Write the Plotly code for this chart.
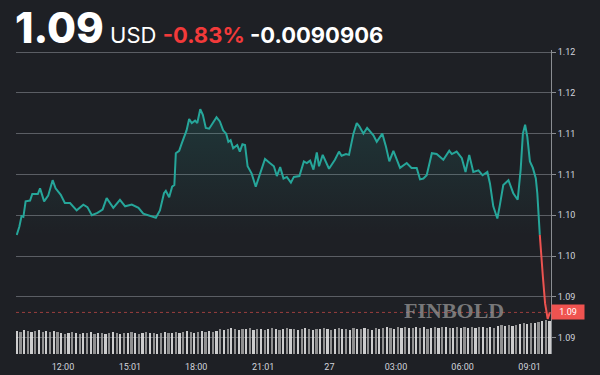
import plotly.graph_objects as go
import pandas as pd

# ---------------- data ----------------
times = [
    "26 09:55", "26 10:02", "26 10:08", "26 10:13", "26 10:19", "26 10:31", "26 10:37", "26 10:52", "26 10:58", "26 11:09",
    "26 11:20", "26 11:32", "26 11:40", "26 11:54", "26 12:05", "26 12:19", "26 12:37", "26 12:55", "26 13:06", "26 13:18",
    "26 13:33", "26 13:47", "26 13:58", "26 14:16", "26 14:34", "26 14:48", "26 15:06", "26 15:24", "26 15:37", "26 15:55",
    "26 16:11", "26 16:22", "26 16:33", "26 16:38", "26 16:47", "26 16:55", "26 17:01", "26 17:05", "26 17:14", "26 17:21",
    "26 17:28", "26 17:34", "26 17:41", "26 17:48", "26 17:57", "26 18:03", "26 18:11", "26 18:18", "26 18:26", "26 18:35",
    "26 18:45", "26 18:55", "26 19:04", "26 19:13", "26 19:21", "26 19:27", "26 19:33", "26 19:40", "26 19:51", "26 19:58",
    "26 20:05", "26 20:12", "26 20:19", "26 20:30", "26 20:41", "26 20:52", "26 21:06", "26 21:19", "26 21:30", "26 21:38",
    "26 21:47", "26 21:56", "26 22:05", "26 22:16", "26 22:24", "26 22:39", "26 22:51", "26 22:59", "26 23:08", "26 23:17",
    "26 23:26", "26 23:32", "26 23:42", "26 23:59", "27 00:15", "27 00:26", "27 00:33", "27 00:45", "27 00:53", "27 01:05",
    "27 01:14", "27 01:21", "27 01:32", "27 01:42", "27 01:52", "27 01:59", "27 02:08", "27 02:23", "27 02:33", "27 02:42",
    "27 02:53", "27 03:11", "27 03:29", "27 03:42", "27 03:56", "27 04:05", "27 04:14", "27 04:23", "27 04:37", "27 04:50",
    "27 05:08", "27 05:24", "27 05:31", "27 05:44", "27 05:58", "27 06:08", "27 06:18", "27 06:29", "27 06:43", "27 06:54",
    "27 07:07", "27 07:14", "27 07:23", "27 07:34", "27 07:41", "27 07:50", "27 08:04", "27 08:17", "27 08:29", "27 08:37",
    "27 08:43", "27 08:49", "27 08:55", "27 09:02", "27 09:10", "27 09:18", "27 09:22", "27 09:29", "27 09:37", "27 09:43",
    "27 09:50", "27 09:56",
]
prices = [
    1.0976, 1.0986, 1.0999, 1.0998, 1.1017, 1.1018, 1.1026, 1.1026, 1.1033, 1.1017,
    1.1024, 1.1043, 1.1033, 1.1025, 1.1015, 1.1015, 1.1006, 1.1013, 1.1010, 1.1000,
    1.1003, 1.1007, 1.1021, 1.1009, 1.1019, 1.1011, 1.1013, 1.1009, 1.1002, 1.0999,
    1.0997, 1.1006, 1.1027, 1.1030, 1.1022, 1.1035, 1.1037, 1.1076, 1.1079, 1.1088,
    1.1098, 1.1104, 1.1118, 1.1113, 1.1116, 1.1113, 1.1130, 1.1123, 1.1107, 1.1106,
    1.1113, 1.1120, 1.1115, 1.1104, 1.1100, 1.1090, 1.1092, 1.1082, 1.1086, 1.1078,
    1.1087, 1.1086, 1.1060, 1.1051, 1.1035, 1.1049, 1.1069, 1.1064, 1.1060, 1.1048,
    1.1059, 1.1045, 1.1047, 1.1040, 1.1047, 1.1048, 1.1066, 1.1064, 1.1067, 1.1056,
    1.1077, 1.1060, 1.1074, 1.1057, 1.1068, 1.1078, 1.1073, 1.1075, 1.1074, 1.1100,
    1.1113, 1.1109, 1.1100, 1.1107, 1.1101, 1.1098, 1.1090, 1.1100, 1.1084, 1.1066,
    1.1079, 1.1058, 1.1064, 1.1058, 1.1058, 1.1044, 1.1045, 1.1049, 1.1076, 1.1075,
    1.1068, 1.1079, 1.1075, 1.1078, 1.1070, 1.1053, 1.1074, 1.1053, 1.1055, 1.1049,
    1.1053, 1.1039, 1.1011, 1.0996, 1.1013, 1.1037, 1.1043, 1.1027, 1.1019, 1.1056,
    1.1100, 1.1111, 1.1096, 1.1066, 1.1058, 1.1045, 1.1027, 1.0974, 1.0925, 1.0892,
    1.0873, 1.0881,
]
base_price = 1.0976

volumes = [
    23, 22, 24, 23, 22, 23, 24, 22, 23, 22, 23, 22,
    21, 20, 21, 22, 21, 20, 21, 21, 22, 20, 21, 21, 20, 21, 22, 21, 20, 21, 21, 22,
    21, 20, 21, 22, 21, 21, 20, 21, 22, 21, 21, 22, 21, 22, 23, 22, 21, 22, 23, 22, 23, 22, 23,
    25, 24, 25, 26, 25, 24, 25, 25, 26, 24, 25, 25, 24, 25, 26, 25, 24, 25, 26, 25, 25, 24,
    25, 26, 25, 24, 25, 25, 26, 25, 24, 25, 26, 25, 25, 24, 26, 25, 25, 26, 25, 24, 26, 25,
    26, 27, 26, 25, 27, 26, 27, 26, 26, 27, 26, 27, 25, 26, 27, 26, 27, 27, 26, 26,
    27, 26, 27, 26, 27, 26, 27, 27, 26, 27, 26,
    28, 29, 28, 29, 28, 29,
    30, 31, 30, 31, 31,
    32, 33, 34, 33,
]
volume_start = "2023-07-26 09:55"

y_ticks = [1.12, 1.115, 1.11, 1.105, 1.10, 1.095, 1.09, 1.085]
y_ticklabels = ["1.12", "1.12", "1.11", "1.11", "1.10", "1.10", "1.09", "1.09"]
x_tickvals = ["2023-07-26 12:00", "2023-07-26 15:01", "2023-07-26 18:00", "2023-07-26 21:01",
              "2023-07-27 00:00", "2023-07-27 03:00", "2023-07-27 06:00", "2023-07-27 09:01"]
x_ticklabels = ["12:00", "15:01", "18:00", "21:01", "27", "03:00", "06:00", "09:01"]

header_price = "1.09"
header_currency = "USD"
header_pct = "-0.83%"
header_abs = "-0.0090906"
last_label = "1.09"
watermark = "FINBOLD"

# ---------------- build ----------------
t = pd.to_datetime(["2023-07-" + s for s in times])
vt = pd.date_range(volume_start, periods=len(volumes), freq="10min")

k = next(i for i in range(1, len(prices)) if prices[i] < base_price and prices[i - 1] >= base_price)
p0, p1 = prices[k - 1], prices[k]
frac = (p0 - base_price) / (p0 - p1)
t_cross = t[k - 1] + (t[k] - t[k - 1]) * frac

green_x = list(t[:k]) + [t_cross]
green_y = prices[:k] + [base_price]
red_x = [t_cross] + list(t[k:])
red_y = [base_price] + prices[k:]

BG = "#1e2025"
GREEN = "#26a69a"
RED = "#ef5350"
GRID = "#5b5e64"
TXT = "#d1d4dc"

fig = go.Figure()

fig.add_trace(go.Bar(
    x=vt, y=volumes, yaxis="y2",
    marker=dict(color=["#ececec" if i % 2 == 0 else "#a4a4a4" for i in range(len(volumes))], line_width=0),
    width=[10 * 60 * 1000 * 0.6] * len(volumes), opacity=0.85,
    hoverinfo="skip", showlegend=False,
))

fig.add_trace(go.Scatter(x=[green_x[0], green_x[-1]], y=[base_price, base_price], mode="lines",
                         line=dict(width=0, color=GREEN), hoverinfo="skip", showlegend=False))
fig.add_trace(go.Scatter(
    x=green_x, y=green_y, mode="lines", line=dict(color=GREEN, width=2),
    fill="tonexty",
    fillgradient=dict(type="vertical", start=base_price, stop=max(prices),
                      colorscale=[[0, "rgba(38,166,154,0.0)"], [1, "rgba(38,166,154,0.17)"]]),
    showlegend=False))
fig.add_trace(go.Scatter(x=[red_x[0], red_x[-1]], y=[base_price, base_price], mode="lines",
                         line=dict(width=0, color=RED), hoverinfo="skip", showlegend=False))
fig.add_trace(go.Scatter(
    x=red_x, y=red_y, mode="lines", line=dict(color=RED, width=2),
    fill="tonexty",
    fillgradient=dict(type="vertical", start=min(prices), stop=base_price,
                      colorscale=[[0, "rgba(239,83,80,0.18)"], [1, "rgba(239,83,80,0.0)"]]),
    showlegend=False))

# plot area in pixels: x 16..551, y 50..354
L, R, T, B = 16, 551, 50, 354
W, H = 600, 375
def px_x(px):
    return (px - L) / (R - L)
def px_y(py):
    return (B - py) / (B - T)

fig.add_shape(type="line", xref="paper", x0=0, x1=1, yref="y", y0=prices[-1], y1=prices[-1],
              line=dict(color=RED, width=1, dash="dot"), opacity=0.6)

fig.add_annotation(
    xref="paper", yref="paper", x=px_x(13), y=px_y(0), xanchor="left", yanchor="top",
    showarrow=False, align="left",
    text=(f"<span style='font-size:42px;font-weight:800;color:#ffffff'>{header_price}</span>"
          f"<span style='font-size:22px;color:#ffffff'> {header_currency} </span>"
          f"<span style='font-size:22px;font-weight:700;color:#f23a3a'>{header_pct}</span>"
          f"<span style='font-size:22px;font-weight:700;color:#ffffff'> {header_abs}</span>"),
    font=dict(family="Inter, Roboto, sans-serif", color="#ffffff"),
)

fig.add_annotation(
    xref="paper", yref="paper", x=px_x(454), y=px_y(310), xanchor="center", yanchor="middle",
    showarrow=False, text=f"<b>{watermark}</b>",
    font=dict(family="Liberation Serif, DejaVu Serif, serif", size=22, color="rgba(150,150,150,0.75)"),
)

fig.add_annotation(
    xref="paper", yref="y", x=1, y=prices[-1], xanchor="left", yanchor="middle",
    showarrow=False, text=last_label, bgcolor=RED, borderpad=2, width=28,
    font=dict(family="Roboto, sans-serif", size=9, color="#ffffff"),
)

fig.update_layout(
    width=W, height=H,
    margin=dict(l=L, r=W - R, t=T, b=H - B, autoexpand=False),
    paper_bgcolor=BG, plot_bgcolor=BG,
    bargap=0,
    xaxis=dict(
        type="date",
        range=["2023-07-26 09:53", "2023-07-27 09:59"],
        tickvals=x_tickvals, ticktext=x_ticklabels,
        showgrid=False, zeroline=False, showline=False,
        ticks="outside", ticklen=4, tickcolor="rgba(0,0,0,0)",
        automargin=False,
        tickfont=dict(family="Roboto, sans-serif", size=9, color=TXT),
    ),
    yaxis=dict(
        side="right",
        range=[1.083005, 1.120245],
        tickvals=y_ticks, ticktext=y_ticklabels,
        showgrid=True, gridcolor=GRID, gridwidth=1,
        zeroline=False, showline=True, linecolor="#8a8d92", linewidth=1,
        ticks="outside", ticklen=4, tickcolor="#8a8d92",
        automargin=False,
        tickfont=dict(family="Roboto, sans-serif", size=9, color=TXT),
    ),
    yaxis2=dict(overlaying="y", range=[0, B - T], visible=False),
    showlegend=False,
)

fig.write_html("out.html")
